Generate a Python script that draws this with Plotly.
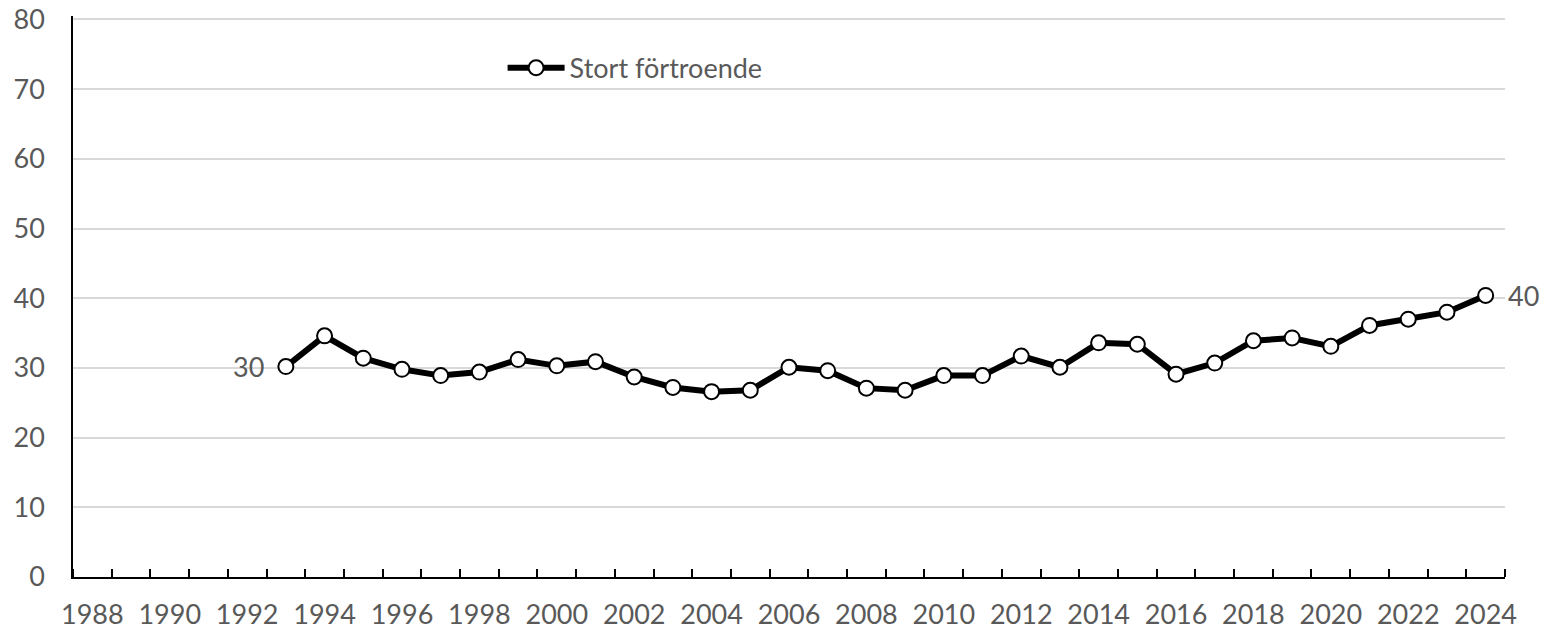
import plotly.graph_objects as go

years = list(range(1993, 2025))
values = [30.2, 34.6, 31.4, 29.8, 28.9, 29.4, 31.2, 30.3, 30.9, 28.7,
          27.2, 26.6, 26.8, 30.1, 29.6, 27.1, 26.8, 28.9, 28.9, 31.7,
          30.1, 33.6, 33.4, 29.1, 30.7, 33.9, 34.3, 33.1, 36.1, 37.0,
          38.0, 40.4]
series_name = "Stort förtroende"
x_tick_labels = [str(y) for y in range(1988, 2025, 2)]
y_ticks = list(range(0, 90, 10))

FONT = "Lato"
GRAY = "#595959"
FS = 27

fig = go.Figure()
fig.add_trace(go.Scatter(
    x=years, y=values, name=series_name, mode="lines+markers",
    line=dict(color="black", width=6),
    marker=dict(symbol="circle", size=15, color="white",
                line=dict(color="black", width=2)),
    showlegend=True,
))

fig.add_annotation(x=years[0], y=values[0], text=str(round(values[0])),
                   showarrow=False, xanchor="right", xshift=-20,
                   font=dict(family=FONT, size=FS, color=GRAY))
fig.add_annotation(x=years[-1], y=values[-1], text=str(round(values[-1])),
                   showarrow=False, xanchor="left", xshift=20,
                   font=dict(family=FONT, size=FS, color=GRAY))

fig.update_layout(
    width=1544, height=631,
    margin=dict(l=73, r=39, t=16, b=54, autoexpand=False),
    paper_bgcolor="white", plot_bgcolor="white",
    font=dict(family=FONT, size=FS, color=GRAY),
    legend=dict(x=0.30, y=0.907, xanchor="left", yanchor="middle",
                bgcolor="rgba(0,0,0,0)", itemwidth=57,
                font=dict(family=FONT, size=FS, color=GRAY)),
    xaxis=dict(
        range=[1987.5, 2024.5], automargin=False,
        tickmode="array",
        tickvals=[int(t) for t in x_tick_labels],
        ticktext=x_tick_labels,
        ticks="", showgrid=False, zeroline=False,
        showline=True, linecolor="black", linewidth=2,
        ticklabelstandoff=13,
        minor=dict(tick0=1987.5, dtick=1, ticks="inside", ticklen=8,
                   tickcolor="black", tickwidth=1.5, showgrid=False),
    ),
    yaxis=dict(
        range=[0, 80.5], automargin=False,
        tickmode="array", tickvals=y_ticks,
        showgrid=True, gridcolor="#d9d9d9", gridwidth=1.5,
        zeroline=False, showline=True, linecolor="black", linewidth=1.5,
        ticks="", ticklabelstandoff=21,
    ),
)

fig.write_html("out.html", config={"displayModeBar": False},
               post_script="document.body.style.margin='0';")
